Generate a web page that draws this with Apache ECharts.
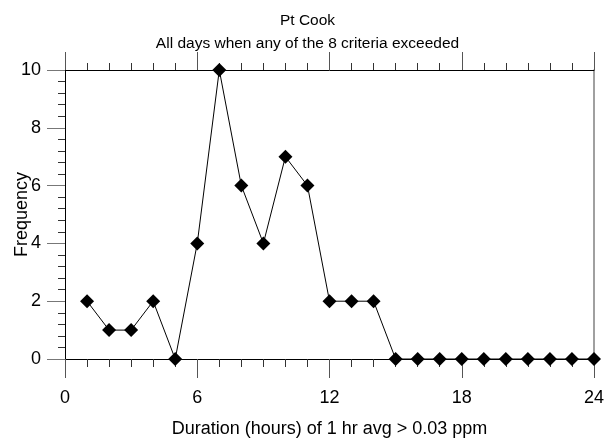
<!DOCTYPE html>
<html>
<head>
<meta charset="utf-8">
<script src="https://cdn.jsdelivr.net/npm/echarts@6/dist/echarts.min.js"></script>
<style>html,body{margin:0;padding:0;background:#fff}#c{width:615px;height:439px}</style>
</head>
<body>
<div id="c"></div>
<script>
const durations = [1,2,3,4,5,6,7,8,9,10,11,12,13,14,15,16,17,18,19,20,21,22,23,24];
const frequency = [2,1,1,2,0,4,10,6,4,7,6,2,2,2,0,0,0,0,0,0,0,0,0,0];
const titleLines = ['Pt Cook', 'All days when any of the 8 criteria exceeded'];
const xTitle = 'Duration (hours) of 1 hr avg > 0.03 ppm';
const yTitle = 'Frequency';

const font = 'Liberation Sans, Arial, sans-serif';
const chart = echarts.init(document.getElementById('c'));
chart.setOption({
  animation: false,
  backgroundColor: '#fff',
  title: {
    text: titleLines.join('\n'),
    left: 'center', top: 4,
    textStyle: {fontFamily: font, fontSize: 15.5, fontWeight: 'normal', color: '#000', lineHeight: 23}
  },
  grid: {left: 65, right: 21, top: 70, bottom: 80, outerBoundsMode: 'none', containLabel: false},
  xAxis: [{
    type: 'value', min: 0, max: 24, interval: 6, position: 'bottom',
    name: xTitle, nameLocation: 'middle', nameGap: 61, nameMoveOverlap: false,
    nameTextStyle: {fontFamily: font, fontSize: 18, color: '#000'},
    axisLine: {show: true, onZero: false, lineStyle: {color: '#000', width: 1}},
    axisTick: {show: true, inside: false, length: 19, lineStyle: {color: '#555'}},
    minorTick: {show: true, splitNumber: 6, length: 8, lineStyle: {color: '#333'}},
    axisLabel: {margin: 30, fontFamily: font, fontSize: 18, color: '#000'},
    splitLine: {show: false}
  }, {
    type: 'value', min: 0, max: 24, interval: 6, position: 'top',
    axisLine: {show: true, onZero: false, lineStyle: {color: '#000', width: 1}},
    axisTick: {show: true, inside: false, length: 18, lineStyle: {color: '#555'}},
    minorTick: {show: true, splitNumber: 6, length: 7, lineStyle: {color: '#333'}},
    axisLabel: {show: false},
    splitLine: {show: false}
  }],
  yAxis: [{
    type: 'value', min: 0, max: 10, interval: 2, position: 'left',
    name: yTitle, nameLocation: 'middle', nameGap: 34, nameRotate: 90, nameMoveOverlap: false,
    nameTextStyle: {fontFamily: font, fontSize: 18, color: '#000'},
    axisLine: {show: true, onZero: false, lineStyle: {color: '#000', width: 1}},
    axisTick: {show: true, inside: false, length: 18, lineStyle: {color: '#777'}},
    minorTick: {show: true, splitNumber: 5, length: 7, lineStyle: {color: '#333'}},
    axisLabel: {margin: 24, fontFamily: font, fontSize: 18, color: '#000'},
    splitLine: {show: false}
  }, {
    type: 'value', min: 0, max: 10, interval: 2, position: 'right',
    axisLine: {show: true, onZero: false, lineStyle: {color: '#808080', width: 1.5}},
    axisTick: {show: false}, minorTick: {show: false}, axisLabel: {show: false}, splitLine: {show: false}
  }],
  series: [{
    type: 'line',
    data: durations.map((d, i) => [d, frequency[i]]),
    symbol: 'diamond', symbolSize: 14,
    lineStyle: {color: '#000', width: 1},
    itemStyle: {color: '#000'},
    clip: false
  }]
});
</script>
</body>
</html>
